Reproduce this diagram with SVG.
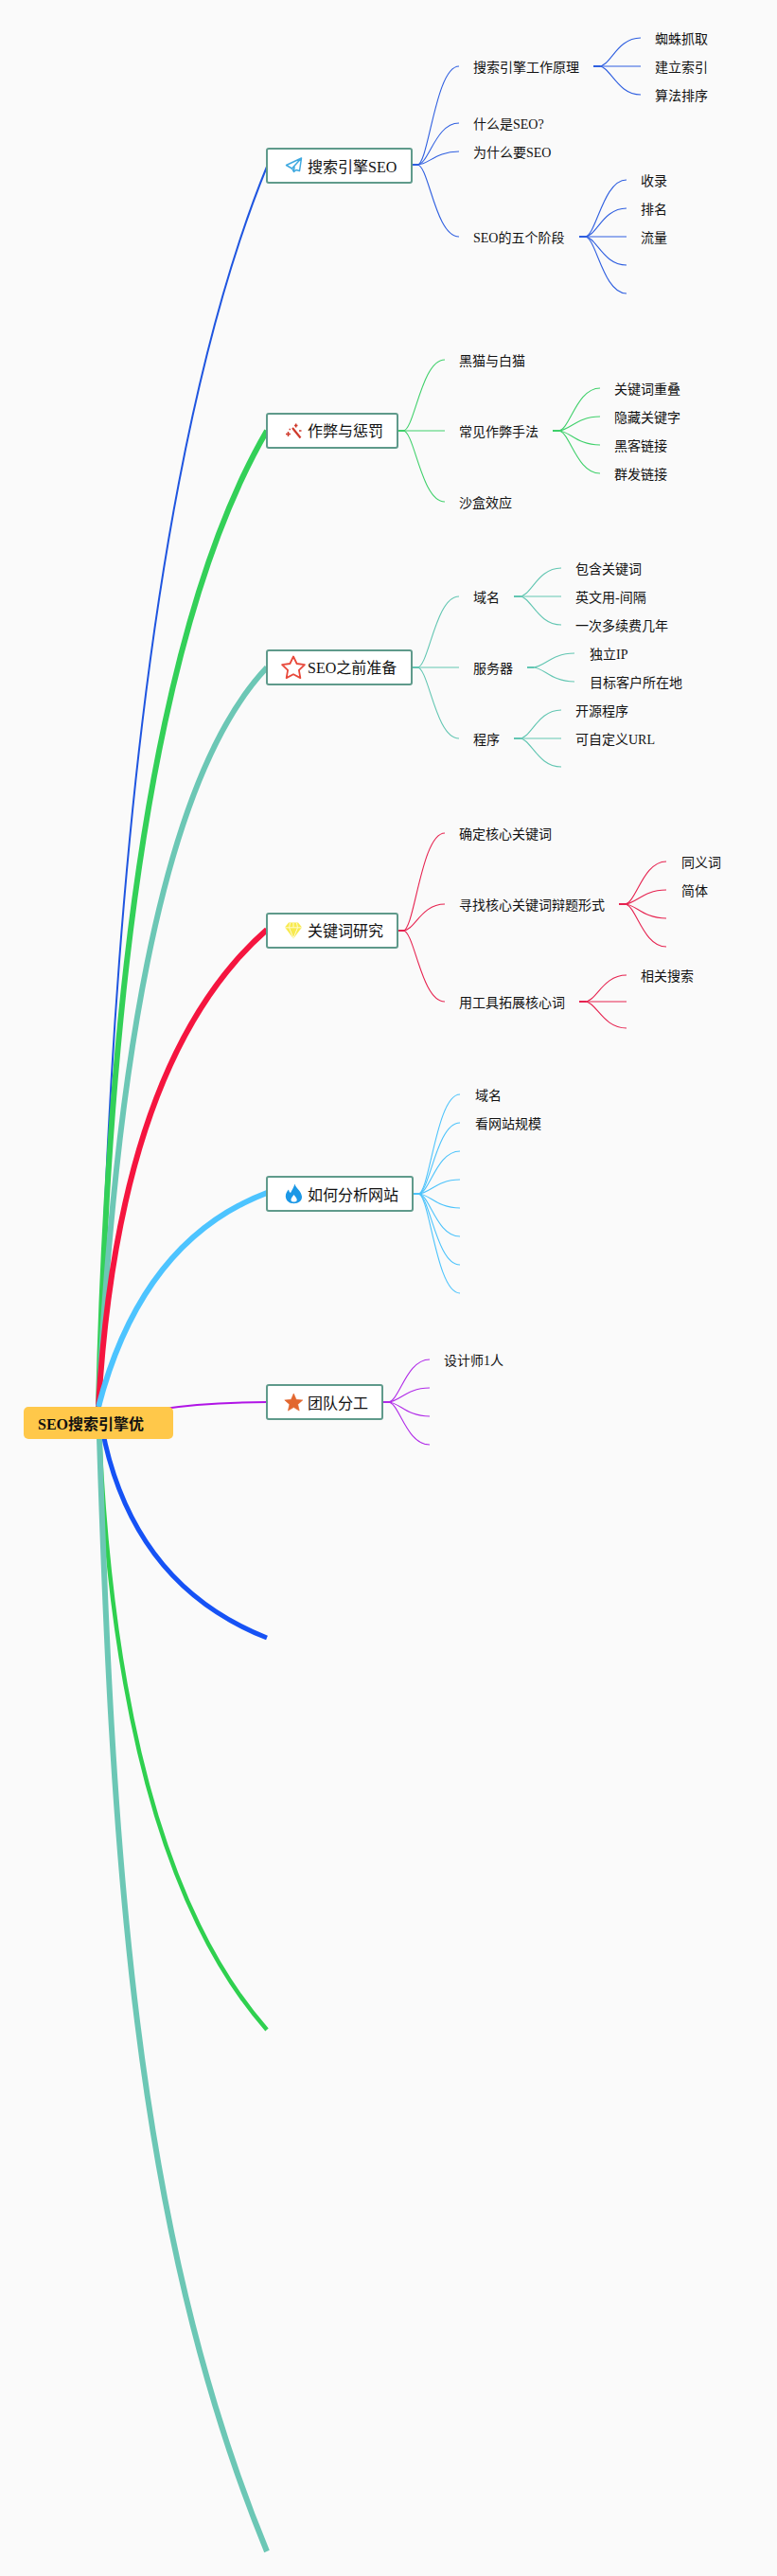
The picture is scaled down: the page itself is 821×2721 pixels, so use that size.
<svg xmlns="http://www.w3.org/2000/svg" width="821" height="2721" viewBox="0 0 821 2721">
<style>
text{font-family:"Liberation Serif","Noto Sans CJK SC",serif;fill:#111}
.t{font-size:14px}
.b{font-size:16px}
.r{font-size:16px;font-weight:700}
.box{fill:#fff;stroke:#5f9a8b;stroke-width:2}
.main{fill:none;stroke-linecap:butt}
.f{fill:none;stroke-width:1.1}
.s{fill:none;stroke-width:2}
.c1{stroke:#2f5fe0}.c2{stroke:#3fd06a}.c3{stroke:#62c6b2}.c4{stroke:#e6224f}.c5{stroke:#4cc3fb}.c6{stroke:#b02ae8}
</style>
<rect width="821" height="2721" fill="#fafafa"/>
<g id="connectors">
<path class="main" d="M104,1486Q125,560 282,176" stroke="#1f55e0" stroke-width="2"/>
<path class="main" d="M104,1486Q122,730 282,455" stroke="#33d058" stroke-width="6"/>
<path class="main" d="M104,1486Q135,860 282,705" stroke="#6cc7b5" stroke-width="6"/>
<path class="main" d="M104,1486Q125,1120 282,982" stroke="#f5153f" stroke-width="6"/>
<path class="main" d="M104,1486Q150,1310 282,1260" stroke="#4dc4ff" stroke-width="6"/>
<path class="main" d="M104,1486Q130,1670 282,1730" stroke="#1652f5" stroke-width="5"/>
<path class="main" d="M104,1486Q120,1960 282,2144" stroke="#2fd04f" stroke-width="4.5"/>
<path class="main" d="M104,1486C118,1950 140,2350 282,2695" stroke="#6cc7b5" stroke-width="6"/>
<path class="main" d="M104,1505Q160,1482 282,1481" stroke="#b014e6" stroke-width="2"/>
<g class="c1">
<path class="s" d="M436,174h7"/>
<path class="f" d="M441,174C453,174 460,70 485,70"/>
<path class="f" d="M441,174C453,174 460,130 485,130"/>
<path class="f" d="M441,174C453,174 460,160 485,160"/>
<path class="f" d="M441,174C453,174 460,250 485,250"/>
<path class="s" d="M627,70h7"/>
<path class="f" d="M633,70C645,70 652,40 677,40"/>
<path class="f" d="M633,70H677"/>
<path class="f" d="M633,70C645,70 652,100 677,100"/>
<path class="s" d="M612,250h7"/>
<path class="f" d="M618,250C630,250 637,190 662,190"/>
<path class="f" d="M618,250C630,250 637,220 662,220"/>
<path class="f" d="M618,250H662"/>
<path class="f" d="M618,250C630,250 637,280 662,280"/>
<path class="f" d="M618,250C630,250 637,310 662,310"/>
</g>
<g class="c2">
<path class="s" d="M421,455h7"/>
<path class="f" d="M426,455C438,455 445,380 470,380"/>
<path class="f" d="M426,455H470"/>
<path class="f" d="M426,455C438,455 445,530 470,530"/>
<path class="s" d="M584,455h7"/>
<path class="f" d="M590,455C602,455 609,410 634,410"/>
<path class="f" d="M590,455C602,455 609,440 634,440"/>
<path class="f" d="M590,455C602,455 609,470 634,470"/>
<path class="f" d="M590,455C602,455 609,500 634,500"/>
</g>
<g class="c3">
<path class="s" d="M436,705h7"/>
<path class="f" d="M441,705C453,705 460,630 485,630"/>
<path class="f" d="M441,705H485"/>
<path class="f" d="M441,705C453,705 460,780 485,780"/>
<path class="s" d="M543,630h7"/>
<path class="f" d="M549,630C561,630 568,600 593,600"/>
<path class="f" d="M549,630H593"/>
<path class="f" d="M549,630C561,630 568,660 593,660"/>
<path class="s" d="M557,705h7"/>
<path class="f" d="M563,705C575,705 582,690 607,690"/>
<path class="f" d="M563,705C575,705 582,720 607,720"/>
<path class="s" d="M543,780h7"/>
<path class="f" d="M549,780C561,780 568,750 593,750"/>
<path class="f" d="M549,780H593"/>
<path class="f" d="M549,780C561,780 568,810 593,810"/>
</g>
<g class="c4">
<path class="s" d="M421,983h7"/>
<path class="f" d="M426,983C438,983 445,880 470,880"/>
<path class="f" d="M426,983C438,983 445,955 470,955"/>
<path class="f" d="M426,983C438,983 445,1058 470,1058"/>
<path class="s" d="M654,955h7"/>
<path class="f" d="M660,955C672,955 679,910 704,910"/>
<path class="f" d="M660,955C672,955 679,940 704,940"/>
<path class="f" d="M660,955C672,955 679,970 704,970"/>
<path class="f" d="M660,955C672,955 679,1000 704,1000"/>
<path class="s" d="M612,1058h7"/>
<path class="f" d="M618,1058C630,1058 637,1030 662,1030"/>
<path class="f" d="M618,1058H662"/>
<path class="f" d="M618,1058C630,1058 637,1086 662,1086"/>
</g>
<g class="c5">
<path class="s" d="M437,1261h7"/>
<path class="f" d="M442,1261C454,1261 461,1156 486,1156"/>
<path class="f" d="M442,1261C454,1261 461,1186 486,1186"/>
<path class="f" d="M442,1261C454,1261 461,1216 486,1216"/>
<path class="f" d="M442,1261C454,1261 461,1246 486,1246"/>
<path class="f" d="M442,1261C454,1261 461,1276 486,1276"/>
<path class="f" d="M442,1261C454,1261 461,1306 486,1306"/>
<path class="f" d="M442,1261C454,1261 461,1336 486,1336"/>
<path class="f" d="M442,1261C454,1261 461,1366 486,1366"/>
</g>
<g class="c6">
<path class="s" d="M405,1481h7"/>
<path class="f" d="M410,1481C422,1481 429,1436 454,1436"/>
<path class="f" d="M410,1481C422,1481 429,1466 454,1466"/>
<path class="f" d="M410,1481C422,1481 429,1496 454,1496"/>
<path class="f" d="M410,1481C422,1481 429,1526 454,1526"/>
</g>
</g>
<g id="root"><rect x="25" y="1486" width="158" height="34" rx="5" fill="#ffc84a"/><text class="r" x="40" y="1510">SEO搜索引擎优</text></g>
<g id="n1"><rect class="box" x="282" y="157" width="153" height="36" rx="2"/>
<path d="M318.500,167L302.500,174.500L308.500,178L310.500,181.500L313,179.500L316.500,180.500ZM318.500,167L308.500,178M310.500,181.500L311,176" fill="none" stroke="#3fa9e0" stroke-width="1.500" stroke-linejoin="round"/>
<text class="b" x="325" y="182">搜索引擎SEO</text></g>
<g id="n2"><rect class="box" x="282" y="437" width="138" height="36" rx="2"/>
<path d="M309,452L317.500,462.500" stroke="#cf3a2c" stroke-width="2.200" fill="none"/>
<path d="M302,458.500h5M304.500,456v5M311,449.500h3.500M312.700,447.500v4M316,455h2.500M305.500,453.500h1.500" stroke="#cf3a2c" stroke-width="1.500" fill="none"/>
<text class="b" x="325" y="461">作弊与惩罚</text></g>
<g id="n3"><rect class="box" x="282" y="687" width="153" height="36" rx="2"/>
<polygon points="310,693.500 313.600,701 321.900,702.100 315.900,707.900 317.350,716.100 310,712.200 302.650,716.100 304.100,707.900 298.100,702.100 306.400,701" fill="none" stroke="#e8483a" stroke-width="1.800" stroke-linejoin="round"/>
<text class="b" x="325" y="711">SEO之前准备</text></g>
<g id="n4"><rect class="box" x="282" y="965" width="138" height="36" rx="2"/>
<path d="M305,974.500H315L319,979.500L310,991.500L301,979.500Z" fill="#f8ea4e"/>
<path d="M301,979.800H319M306.500,975L305.500,979.800L310,991M313.500,975L314.500,979.800L310,991M310,975V979.800" fill="none" stroke="#fffbd0" stroke-width="1"/>
<text class="b" x="325" y="989">关键词研究</text></g>
<g id="n5"><rect class="box" x="282" y="1243" width="154" height="36" rx="2"/>
<path d="M311.500,1250.500C312.500,1255 318.500,1258 319,1264C319.200,1268.500 315.500,1271.200 310.500,1271.200C305.500,1271.200 301.800,1268 301.800,1263.500C301.800,1260.500 303.500,1258 305,1256.500C305.200,1258 306,1259.500 307,1260C308.500,1257 310.500,1254 311.500,1250.500ZM310.500,1262C309,1264 307,1266 307.500,1268C308,1270 313,1270 313.700,1268C314.200,1266 312,1264 310.500,1262Z" fill="#1c98e6" fill-rule="evenodd"/>
<text class="b" x="325" y="1268">如何分析网站</text></g>
<g id="n6"><rect class="box" x="282" y="1463" width="122" height="36" rx="2"/>
<polygon points="310.300,1472 313,1478.300 319.800,1478.900 314.700,1483.400 316.200,1490.100 310.300,1486.600 304.400,1490.100 305.900,1483.400 300.800,1478.900 307.600,1478.300" fill="#e2672f" stroke="#e2672f" stroke-width=".6"/>
<text class="b" x="325" y="1488">团队分工</text></g>
<g id="l1"><text class="t" x="500" y="76">搜索引擎工作原理</text></g>
<g id="l2"><text class="t" x="692" y="46">蜘蛛抓取</text></g>
<g id="l3"><text class="t" x="692" y="76">建立索引</text></g>
<g id="l4"><text class="t" x="692" y="106">算法排序</text></g>
<g id="l5"><text class="t" x="500" y="136">什么是SEO?</text></g>
<g id="l6"><text class="t" x="500" y="166">为什么要SEO</text></g>
<g id="l7"><text class="t" x="500" y="256">SEO的五个阶段</text></g>
<g id="l8"><text class="t" x="677" y="196">收录</text></g>
<g id="l9"><text class="t" x="677" y="226">排名</text></g>
<g id="l10"><text class="t" x="677" y="256">流量</text></g>
<g id="l11"><text class="t" x="485" y="386">黑猫与白猫</text></g>
<g id="l12"><text class="t" x="485" y="461">常见作弊手法</text></g>
<g id="l13"><text class="t" x="649" y="416">关键词重叠</text></g>
<g id="l14"><text class="t" x="649" y="446">隐藏关键字</text></g>
<g id="l15"><text class="t" x="649" y="476">黑客链接</text></g>
<g id="l16"><text class="t" x="649" y="506">群发链接</text></g>
<g id="l17"><text class="t" x="485" y="536">沙盒效应</text></g>
<g id="l18"><text class="t" x="500" y="636">域名</text></g>
<g id="l19"><text class="t" x="608" y="606">包含关键词</text></g>
<g id="l20"><text class="t" x="608" y="636">英文用-间隔</text></g>
<g id="l21"><text class="t" x="608" y="666">一次多续费几年</text></g>
<g id="l22"><text class="t" x="500" y="711">服务器</text></g>
<g id="l23"><text class="t" x="623" y="696">独立IP</text></g>
<g id="l24"><text class="t" x="623" y="726">目标客户所在地</text></g>
<g id="l25"><text class="t" x="500" y="786">程序</text></g>
<g id="l26"><text class="t" x="608" y="756">开源程序</text></g>
<g id="l27"><text class="t" x="608" y="786">可自定义URL</text></g>
<g id="l28"><text class="t" x="485" y="886">确定核心关键词</text></g>
<g id="l29"><text class="t" x="485" y="961">寻找核心关键词辩题形式</text></g>
<g id="l30"><text class="t" x="720" y="916">同义词</text></g>
<g id="l31"><text class="t" x="720" y="946">简体</text></g>
<g id="l32"><text class="t" x="485" y="1064">用工具拓展核心词</text></g>
<g id="l33"><text class="t" x="677" y="1036">相关搜索</text></g>
<g id="l34"><text class="t" x="502" y="1162">域名</text></g>
<g id="l35"><text class="t" x="502" y="1192">看网站规模</text></g>
<g id="l36"><text class="t" x="469" y="1442">设计师1人</text></g>
</svg>
